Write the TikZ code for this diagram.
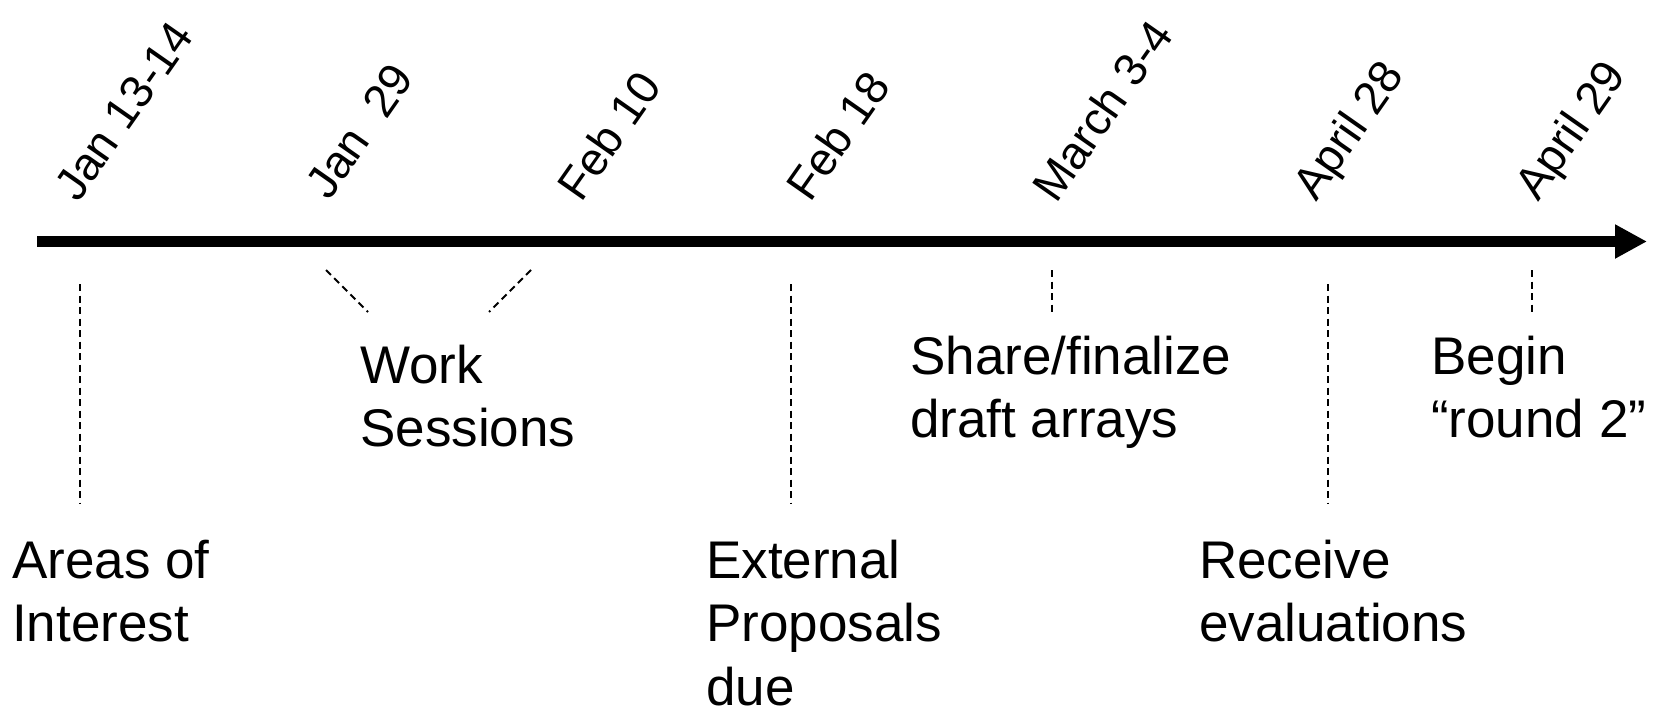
\documentclass[tikz,border=0pt]{standalone}
\usepackage{fontspec}
\setmainfont{Liberation Sans}
\usetikzlibrary{arrows.meta}
\newcommand{\lns}[1]{\vtop{#1}}
\begin{document}
\begin{tikzpicture}[x=1pt,y=-1pt,
  datelbl/.style={inner sep=0pt, anchor=base west, rotate=55, font=\fontsize{46}{55}\selectfont},
  evtlbl/.style={inner sep=0pt, anchor=base west, font=\fontsize{53}{63.5}\selectfont},
  tickline/.style={line width=2pt, dash pattern=on 7pt off 4.5pt},
  axisline/.style={line width=11pt, -{Triangle[length=32pt,width=32pt]}}]
\useasboundingbox (0,0) rectangle (1660,709);
% axis
\coordinate (axstart) at (37,241.5);
\coordinate (axend) at (1647,241.5);
\draw[axisline] (axstart) -- (axend);
% date labels
\node[datelbl] (d1) at (78,204) {Jan 13-14};
\node[datelbl] (d2) at (329,202) {Jan\ \ 29};
\node[datelbl] (d3) at (581,204) {Feb 10};
\node[datelbl] (d4) at (810,204) {Feb 18};
\node[datelbl] (d5) at (1056,205) {March 3-4};
\node[datelbl] (d6) at (1316,203) {April 28};
\node[datelbl] (d7) at (1538,203) {April 29};
% tick coordinates
\coordinate (t1a) at (80,284);   \coordinate (t1b) at (80,503);
\coordinate (w1a) at (326,270);  \coordinate (w1b) at (368,312);
\coordinate (w2a) at (531,270);  \coordinate (w2b) at (489,312);
\coordinate (t4a) at (791,284);  \coordinate (t4b) at (791,503);
\coordinate (t5a) at (1052,270); \coordinate (t5b) at (1052,314);
\coordinate (t6a) at (1328,284); \coordinate (t6b) at (1328,503);
\coordinate (t7a) at (1532,270); \coordinate (t7b) at (1532,314);
\draw[tickline] (t1a) -- (t1b);
\draw[tickline] (w1a) -- (w1b);
\draw[tickline] (w2a) -- (w2b);
\draw[tickline] (t4a) -- (t4b);
\draw[tickline] (t5a) -- (t5b);
\draw[tickline] (t6a) -- (t6b);
\draw[tickline] (t7a) -- (t7b);
% event labels
\node[evtlbl] (e1) at (12,578) {\lns{\hbox{Areas of}\hbox{Interest}}};
\node[evtlbl] (e2) at (360,383) {\lns{\hbox{Work}\hbox{Sessions}}};
\node[evtlbl] (e3) at (706,578) {\lns{\hbox{External}\hbox{Proposals}\hbox{due}}};
\node[evtlbl] (e4) at (910,374) {\lns{\hbox{Share/finalize}\hbox{draft arrays}}};
\node[evtlbl] (e5) at (1199,578) {\lns{\hbox{Receive}\hbox{evaluations}}};
\node[evtlbl] (e6) at (1431,374) {\lns{\hbox{Begin}\hbox{“round 2”}}};
\end{tikzpicture}
\end{document}
